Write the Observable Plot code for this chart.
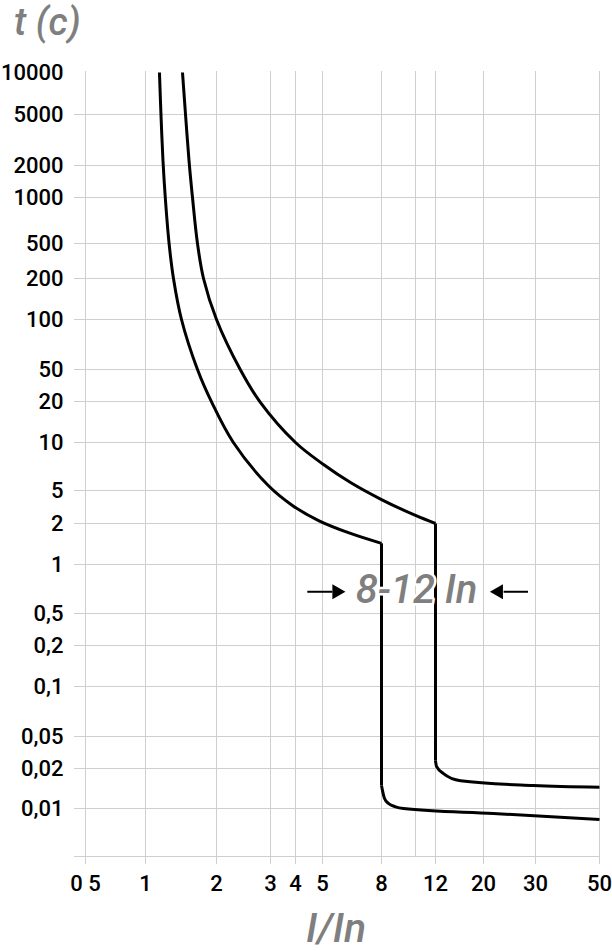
<!DOCTYPE html>
<html>
<head>
<meta charset="utf-8">
<script src="https://cdn.jsdelivr.net/npm/d3@7"></script>
<script src="https://cdn.jsdelivr.net/npm/@observablehq/plot@0.6"></script>
<style>
  html, body { margin: 0; padding: 0; background: #fff; }
  body { width: 612px; height: 951px; overflow: hidden; font-family: Roboto, "Noto Sans", sans-serif; }
  #title { height: 56px; box-sizing: border-box; padding: 0 0 0 14px; font-size: 38px; line-height: 44px;
           font-style: italic; font-weight: 500; color: #7f7f7f; }
  #xlabel { height: 45px; box-sizing: border-box; padding: 0 0 0 306px; font-size: 41px; line-height: 45px;
            font-style: italic; font-weight: 500; color: #7f7f7f; }
</style>
</head>
<body>
<div id="title">t (c)</div>
<div id="chart"></div>
<div id="xlabel">I/In</div>
<script>
// ---- Axis ticks ----
const xTicks = [0.5, 1, 2, 3, 4, 5, 8, 12, 20, 30, 50];          // labelled x ticks
const xGrid  = [0.5, 1, 2, 3, 4, 5, 8, 10, 12, 20, 30, 50];      // vertical grid lines
const xTickLabels = ["0 5", "1", "2", "3", "4", "5", "8", "12", "20", "30", "50"];
const yTicks = [0.01, 0.02, 0.05, 0.1, 0.2, 0.5, 1, 2, 5, 10, 20, 50, 100, 200, 500, 1000, 2000, 5000, 10000];
const yGrid  = [0.01, 0.02, 0.05, 0.1, 0.2, 0.5, 1, 2, 5, 10, 20, 50, 100, 200, 500, 1000, 2000, 5000];

// ---- Lower curve (8 In): thermal part, instantaneous drop, tail ----
const lowerThermI = [1.146, 1.163, 1.186, 1.213, 1.259, 1.314, 1.421, 1.661, 1.91, 2.27, 2.95, 3.86, 4.84, 6.25, 8];
const lowerThermT = [10000, 5000, 2190, 1000, 500, 200, 100, 50, 19.7, 10, 5.37, 3.30, 2.17, 1.69, 1.43];
const lowerDropI  = [8, 8];
const lowerDropT  = [1.43, 0.0149];
const lowerTailI  = [8, 8.05, 8.16, 8.38, 8.77, 9.24, 21.6, 50];
const lowerTailT  = [0.0149, 0.0137, 0.0119, 0.0109, 0.0103, 0.0100, 0.00917, 0.00826];

// ---- Upper curve (12 In) ----
const upperThermI = [1.435, 1.478, 1.529, 1.582, 1.661, 1.762, 2, 2.39, 2.78, 4, 5.04, 6.25, 8, 10, 12];
const upperThermT = [10000, 5000, 2190, 1000, 500, 200, 100, 50, 19.7, 10, 7.28, 5.61, 3.89, 2.50, 2];
const upperDropI  = [12, 12];
const upperDropT  = [2, 0.025];
const upperTailI  = [12, 12.13, 13.07, 15.66, 29.5, 50];
const upperTailT  = [0.025, 0.0212, 0.0183, 0.0162, 0.0149, 0.01446];

// ---- Annotation "8-12 In" ----
const annoLabel = ["8-12 In"];
const annoI = [10];
const annoT = [0.70];
const arrowT = 0.68;
const leftArrowLine  = [4.41, 5.41];   // I from, I to
const leftArrowHead  = [5.6];
const rightArrowLine = [23.4, 28.3];
const rightArrowHead = [22.5];

// ---- Build tables ----
const rows = (I, T, key) => I.map((v, i) => ({I: v, t: T[i], key}));
const therm = [...rows(lowerThermI, lowerThermT, "lower"), ...rows(upperThermI, upperThermT, "upper")];
const drops = [...rows(lowerDropI, lowerDropT, "lower"), ...rows(upperDropI, upperDropT, "upper")];
const tails = [...rows(lowerTailI, lowerTailT, "lower"), ...rows(upperTailI, upperTailT, "upper")];
const arrowLines = [
  {x1: leftArrowLine[0], x2: leftArrowLine[1]},
  {x1: rightArrowLine[0], x2: rightArrowLine[1]}
];
const xExtra = xGrid.filter(d => !xTicks.includes(d));
const yFmt = d => String(d).replace(".", ",");
const font = {fontSize: 22, fontWeight: 500, fill: "#000"};
const curveStyle = {x: "I", y: "t", z: "key", stroke: "#000", strokeWidth: 3, strokeLinejoin: "round", strokeLinecap: "butt"};

const plot = Plot.plot({
  width: 612,
  height: 850,
  marginTop: 15,
  marginLeft: 74,
  marginRight: 13,
  marginBottom: 50,
  style: {fontFamily: "Roboto, 'Noto Sans', sans-serif", background: "#fff", color: "#000"},
  x: {type: "log", axis: null, domain: xGrid, range: [85, 145, 216, 270, 295, 322, 381, 415, 435, 483, 535, 599]},
  y: {type: "log", axis: null, domain: yTicks,
      range: [752, 712, 680, 630, 589, 557, 508, 467, 434, 386, 345, 313, 263, 222, 187, 141, 109, 58, 16]},
  marks: [
    Plot.gridX(xTicks, {stroke: "#cfcfcf", strokeOpacity: 1, strokeWidth: 1, insetBottom: -8}),
    Plot.gridX(xExtra, {stroke: "#cfcfcf", strokeOpacity: 1, strokeWidth: 1}),
    Plot.gridY(yGrid, {stroke: "#cfcfcf", strokeOpacity: 1, strokeWidth: 1}),
    Plot.frame({anchor: "bottom", stroke: "#cfcfcf", strokeWidth: 1}),
    Plot.text(xTicks, {x: d => d, text: (d, i) => xTickLabels[i], frameAnchor: "bottom",
                       lineAnchor: "top", dy: 19, ...font}),
    Plot.text(yTicks, {y: d => d, text: yFmt, frameAnchor: "left", textAnchor: "end", dx: -11, ...font}),
    Plot.line(therm, {...curveStyle, curve: "catmull-rom"}),
    Plot.line(drops, {...curveStyle, curve: "linear"}),
    Plot.line(tails, {...curveStyle, curve: "monotone-x"}),
    Plot.link(arrowLines, {x1: "x1", x2: "x2", y1: () => arrowT, y2: () => arrowT, stroke: "#000", strokeWidth: 2}),
    Plot.dot(leftArrowHead, {x: d => d, y: () => arrowT, symbol: "triangle", r: 5.6, rotate: 90,
                             fill: "#000", stroke: null}),
    Plot.dot(rightArrowHead, {x: d => d, y: () => arrowT, symbol: "triangle", r: 5.6, rotate: -90,
                              fill: "#000", stroke: null}),
    Plot.text(annoLabel, {x: annoI, y: annoT, text: d => d, dx: 1, fontSize: 40, fontStyle: "italic",
                          fontWeight: 500, fill: "#7f7f7f", stroke: "#fff", strokeWidth: 5})
  ]
});
document.getElementById("chart").appendChild(plot);
</script>
</body>
</html>
